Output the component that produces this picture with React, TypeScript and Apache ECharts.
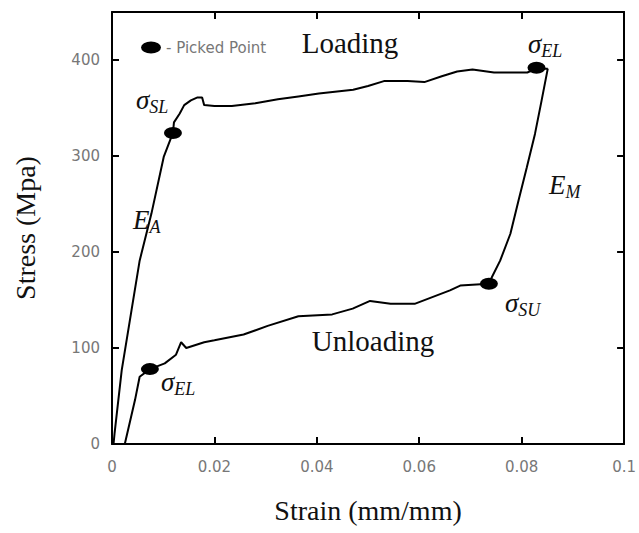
import React, { useEffect, useRef } from "react";
import * as echarts from "echarts";

// Loading branch (strain mm/mm, stress MPa)
const loadingStrain = [
  0.0003, 0.0005, 0.0019, 0.0038, 0.0054, 0.0077, 0.0101, 0.0119, 0.0121, 0.0132,
  0.0141, 0.0154, 0.0167, 0.0176, 0.018, 0.02, 0.0234, 0.028, 0.0324, 0.0364,
  0.0404, 0.0471, 0.05, 0.0531, 0.0577, 0.061, 0.0644, 0.0674, 0.0704, 0.0746,
  0.0811, 0.0829, 0.0851,
];
const loadingStress = [
  0, 11, 77, 139, 191, 240, 299, 324, 335, 344,
  353, 358, 361, 361, 353, 352, 352, 355, 359, 362,
  365, 369, 373, 378, 378, 377, 383, 388, 390, 387,
  387, 391, 391,
];
// Unloading branch
const unloadingStrain = [
  0.0851, 0.0839, 0.0826, 0.081, 0.0794, 0.0778, 0.0758, 0.0742, 0.0736, 0.068,
  0.066, 0.0591, 0.0544, 0.0504, 0.047, 0.043, 0.0364, 0.0304, 0.0257, 0.02,
  0.018, 0.0145, 0.0135, 0.0125, 0.0103, 0.0074, 0.0054, 0.0045, 0.0025,
];
const unloadingStress = [
  391, 358, 323, 288, 254, 219, 191, 174, 167, 165,
  160, 146, 146, 149, 141, 135, 133, 123, 114, 108,
  106, 100, 106, 93, 84, 78, 70, 46, 0,
];
// Picked points
const pickedStrain = [0.0119, 0.0829, 0.0736, 0.0074];
const pickedStress = [324, 392, 167, 78];

const xTicks = [0, 0.02, 0.04, 0.06, 0.08, 0.1];
const yTicks = [0, 100, 200, 300, 400];
const yMax = 450;

const SERIF = '"Liberation Serif", "Times New Roman", serif';
const SANS = '"DejaVu Sans", sans-serif';
const ELLIPSE = "path://M0,6 A10,6 0 1,1 20,6 A10,6 0 1,1 0,6 Z";

function subLabel(main: string, sub: string, x: number, y: number) {
  return {
    type: "text",
    x,
    y,
    z: 100,
    style: {
      text: `{m|${main}}{s|${sub}}`,
      fill: "#111",
      align: "left",
      verticalAlign: "top",
      rich: {
        m: {
          fontFamily: SERIF,
          fontStyle: "italic",
          fontSize: 27,
          lineHeight: 30,
          verticalAlign: "top",
          fill: "#111",
        },
        s: {
          fontFamily: SERIF,
          fontStyle: "italic",
          fontSize: 18,
          lineHeight: 12,
          verticalAlign: "bottom",
          fill: "#111",
        },
      },
    },
  };
}

export default function App() {
  const ref = useRef<HTMLDivElement>(null);

  useEffect(() => {
    if (!ref.current) return;
    const chart = echarts.init(ref.current, undefined, { renderer: "svg" });
    const interval = xTicks[1] - xTicks[0];
    const yInterval = yTicks[1] - yTicks[0];
    const axisLineStyle = { color: "#000", width: 2 };
    const xBase = {
      type: "value",
      min: xTicks[0],
      max: xTicks[xTicks.length - 1],
      interval,
      splitLine: { show: false },
      axisLine: { show: true, onZero: false, lineStyle: axisLineStyle },
      axisTick: { show: true, inside: true, length: 7, lineStyle: axisLineStyle },
    };
    const yBase = {
      type: "value",
      min: yTicks[0],
      max: yMax,
      interval: yInterval,
      splitLine: { show: false },
      axisLine: { show: true, onZero: false, lineStyle: axisLineStyle },
      axisTick: { show: true, inside: true, length: 7, lineStyle: axisLineStyle },
    };
    chart.setOption({
      animation: false,
      backgroundColor: "#fff",
      grid: { left: 112, right: 11, top: 12, bottom: 89, containLabel: false },
      legend: {
        left: 136,
        top: 35,
        itemWidth: 20,
        itemHeight: 12,
        itemStyle: { opacity: 1, color: "#000" },
        data: [{ name: "- Picked Point", icon: ELLIPSE }],
        textStyle: { fontFamily: SANS, fontSize: 15, color: "#777" },
        selectedMode: false,
      },
      xAxis: [
        {
          ...xBase,
          position: "bottom",
          name: "Strain (mm/mm)",
          nameLocation: "middle",
          nameGap: 52,
          nameTextStyle: { fontFamily: SERIF, fontSize: 28, color: "#111" },
          axisLabel: {
            margin: 15,
            fontFamily: SANS,
            fontSize: 15,
            color: "#777",
            formatter: (v: number) => String(Math.round(v * 1000) / 1000),
          },
        },
        { ...xBase, position: "top", axisLabel: { show: false } },
      ],
      yAxis: [
        {
          ...yBase,
          position: "left",
          name: "Stress (Mpa)",
          nameLocation: "middle",
          nameGap: 73,
          nameTextStyle: { fontFamily: SERIF, fontSize: 28, color: "#111" },
          axisLabel: {
            margin: 12,
            fontFamily: SANS,
            fontSize: 15,
            color: "#777",
            showMaxLabel: false,
          },
        },
        { ...yBase, position: "right", axisLabel: { show: false } },
      ],
      series: [
        {
          name: "Loading",
          type: "line",
          data: loadingStrain.map((x, i) => [x, loadingStress[i]]),
          showSymbol: false,
          lineStyle: { color: "#000", width: 2 },
          z: 2,
        },
        {
          name: "Unloading",
          type: "line",
          data: unloadingStrain.map((x, i) => [x, unloadingStress[i]]),
          showSymbol: false,
          lineStyle: { color: "#000", width: 2 },
          z: 2,
        },
        {
          name: "- Picked Point",
          type: "scatter",
          data: pickedStrain.map((x, i) => [x, pickedStress[i]]),
          symbol: ELLIPSE,
          symbolSize: [18, 12],
          itemStyle: { color: "#000", opacity: 1 },
          z: 3,
        },
      ],
      graphic: [
        {
          type: "text",
          x: 350,
          y: 43,
          style: {
            text: "Loading",
            fill: "#111",
            fontFamily: SERIF,
            fontSize: 29,
            align: "center",
            verticalAlign: "middle",
          },
        },
        {
          type: "text",
          x: 373,
          y: 341,
          style: {
            text: "Unloading",
            fill: "#111",
            fontFamily: SERIF,
            fontSize: 29,
            align: "center",
            verticalAlign: "middle",
          },
        },
        subLabel("σ", "SL", 136, 86),
        subLabel("σ", "EL", 528, 30),
        subLabel("σ", "SU", 505, 289),
        subLabel("σ", "EL", 161, 368),
        subLabel("E", "A", 133, 206),
        subLabel("E", "M", 549, 171),
      ],
    });
    return () => chart.dispose();
  }, []);

  return (
    <div
      ref={ref}
      style={{ position: "absolute", left: 0, top: 0, width: 639, height: 533 }}
    />
  );
}
